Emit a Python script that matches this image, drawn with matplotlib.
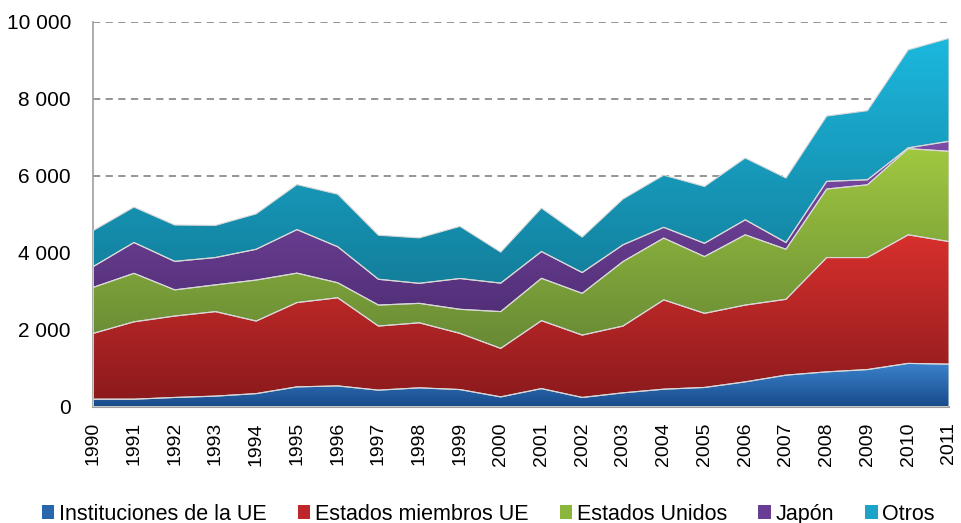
import numpy as np
import matplotlib
matplotlib.use("Agg")
from matplotlib import pyplot as plt
from matplotlib.colors import LinearSegmentedColormap
from matplotlib.patches import Patch
from matplotlib.ticker import FuncFormatter

plt.rcParams['font.family'] = ['Liberation Sans', 'DejaVu Sans']

years = list(range(1990, 2012))
series_names = ['Instituciones de la UE', 'Estados miembros UE', 'Estados Unidos', 'Japón', 'Otros']

inst_ue = [200, 200, 245, 280, 345, 520, 545, 435, 495, 450, 260, 475, 245, 365, 460, 505, 650, 825, 910, 970, 1130, 1110]
miembros_ue = [1710, 2010, 2115, 2195, 1885, 2190, 2290, 1665, 1690, 1460, 1260, 1765, 1620, 1735, 2320, 1925, 1995, 1970, 2970, 2910, 3340, 3185]
eeuu = [1195, 1260, 680, 695, 1065, 765, 390, 545, 505, 625, 955, 1100, 1085, 1675, 1605, 1475, 1825, 1300, 1780, 1890, 2240, 2345]
japon = [540, 800, 740, 710, 800, 1130, 935, 670, 520, 800, 740, 695, 540, 435, 280, 345, 390, 175, 200, 130, 20, 260]
otros = [935, 920, 945, 835, 920, 1170, 1365, 1145, 1180, 1355, 805, 1130, 920, 1190, 1355, 1475, 1605, 1675, 1695, 1795, 2545, 2675]

# (bottom colour, top colour) of the vertical gradient, legend colour
colours = [
    ('#174a8a', '#3b82cc', '#2a66ad'),
    ('#8c1a1d', '#d8302d', '#c02528'),
    ('#678a35', '#a0c840', '#8bb63c'),
    ('#532f78', '#7d4ca8', '#6a3d95'),
    ('#137f9c', '#1cb8de', '#1ba4c8'),
]

data = np.array([inst_ue, miembros_ue, eeuu, japon, otros], dtype=float)
tops = np.cumsum(data, axis=0)
bottoms = tops - data
x = np.array(years, dtype=float)

fig = plt.figure(figsize=(9.61, 5.23), dpi=100)
ax = fig.add_axes([0.097, 0.222, 0.8905, 0.736])

grad = np.linspace(0, 1, 256).reshape(-1, 1)
for i in range(len(series_names)):
    lo, hi, _ = colours[i]
    poly = ax.fill_between(x, bottoms[i], tops[i], facecolor='none',
                           edgecolor='#d8d8d8', linewidth=0.8, zorder=3)
    cmap = LinearSegmentedColormap.from_list('g%d' % i, [lo, hi])
    y0 = bottoms[i].min()
    y1 = tops[i].max()
    im = ax.imshow(grad, extent=[x[0], x[-1], y0, y1], origin='lower',
                   aspect='auto', cmap=cmap, zorder=2, interpolation='bilinear')
    im.set_clip_path(poly.get_paths()[0], transform=ax.transData)

ax.set_xlim(1990, 2011)
ax.set_ylim(0, 10000)
ax.set_yticks(range(0, 10001, 2000))
ax.yaxis.set_major_formatter(FuncFormatter(lambda v, p: '{:,}'.format(int(v)).replace(',', ' ')))
ax.set_xticks(years)
ax.set_xticklabels([str(y) for y in years], rotation=90)

for yv in range(2000, 10001, 2000):
    ax.axhline(yv, color='#8c8c8c', linestyle=(0, (4, 3)), linewidth=1.3, zorder=1)

ax.tick_params(axis='y', length=0, pad=16, labelsize=15)
ax.tick_params(axis='x', length=0, pad=11, labelsize=14)
for s in ['top', 'right']:
    ax.spines[s].set_visible(False)
ax.spines['left'].set_color('#a0a0a0')
ax.spines['bottom'].set_color('#a0a0a0')
ax.spines['left'].set_linewidth(1.2)
ax.spines['bottom'].set_linewidth(1.5)

handles = [Patch(facecolor=c[2], edgecolor='none') for c in colours]
fig.legend(handles, series_names, loc='lower center', bbox_to_anchor=(0.508, -0.04),
           ncol=5, frameon=False, handlelength=0.6, handleheight=0.6,
           handletextpad=0.2, columnspacing=1.45,
           prop={'size': 15.5})

fig.savefig('out.png', dpi=100)
